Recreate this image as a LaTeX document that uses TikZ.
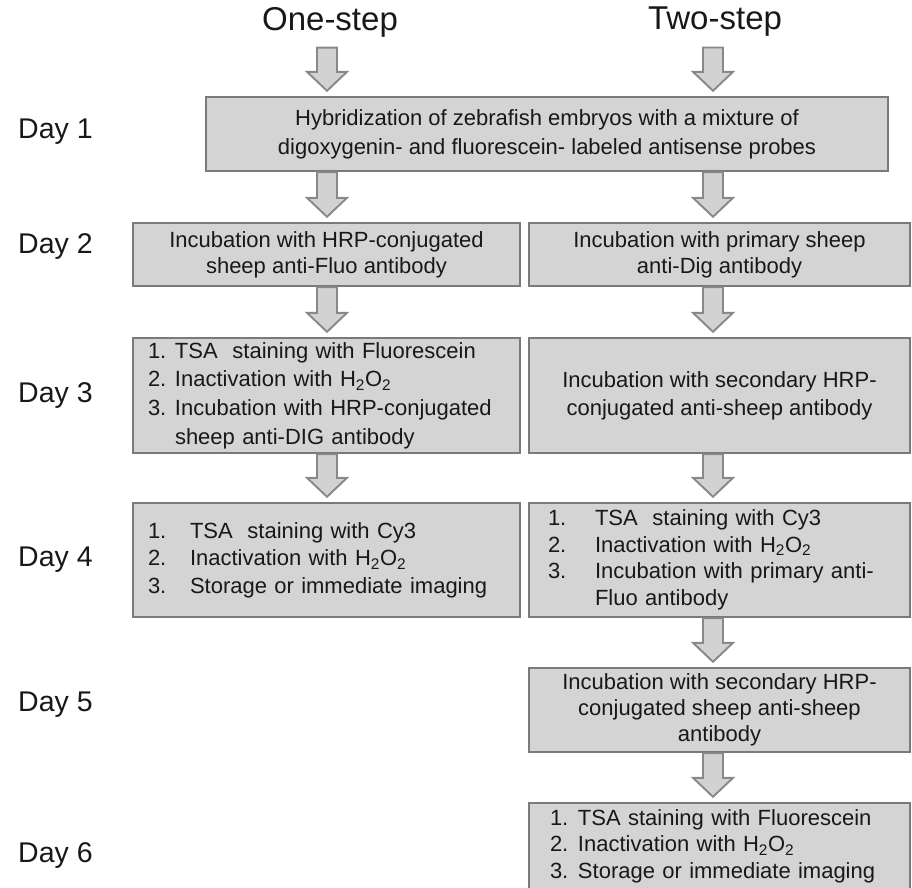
\documentclass[tikz,border=0pt]{standalone}
\usepackage{fontspec}
\setmainfont{Liberation Sans}
\usetikzlibrary{calc}
\definecolor{boxfill}{HTML}{D4D4D4}
\definecolor{boxline}{HTML}{7A7A7A}
\definecolor{arrfill}{HTML}{D2D2D2}
\definecolor{arrline}{HTML}{888888}
\definecolor{ink}{HTML}{181818}
\newcommand\blkarrow[2]{%
  \draw[blkarr] let \p1=(#1), \p2=(#2) in
    (\x1-10pt,\y1) -- (\x1-10pt,\y2+24pt) -- (\x1-20pt,\y2+24pt) -- (\x1,\y2+5pt)
    -- (\x1+20pt,\y2+24pt) -- (\x1+10pt,\y2+24pt) -- (\x1+10pt,\y1) -- cycle;}
\begin{document}
\begin{tikzpicture}[x=1pt,y=-1pt,
  stepbox/.style={draw=boxline, fill=boxfill, line width=2.4pt, inner sep=0pt,
    text=ink, font=\fontsize{22}{27}\selectfont, align=center},
  listbox/.style={stepbox, align=left},
  blkarr/.style={draw=arrline, fill=arrfill, line width=1.9pt, line join=miter},
  daylabel/.style={anchor=west, inner sep=0pt, text=ink, font=\fontsize{28.5}{31}\selectfont},
  title/.style={inner sep=0pt, text=ink, font=\fontsize{33}{36}\selectfont}]
\useasboundingbox (0,0) rectangle (912,887);
\clip (0,0) rectangle (912,887);

\coordinate (lcol) at (327,0);
\coordinate (rcol) at (713,0);

% titles
\node[title] (one) at (330,22) {One-step};
\node[title] (two) at (715,22) {Two-step};
\coordinate (s1) at ([yshift=-10.5pt]one.south);
\coordinate (s2) at ([yshift=-10.5pt]two.south);

% day labels
\node[daylabel] (d1) at (18,132) {Day 1};
\node[daylabel] (d2) at (18,246) {Day 2};
\node[daylabel] (d3) at (18,395) {Day 3};
\node[daylabel] (d4) at (18,560) {Day 4};
\node[daylabel] (d5) at (18,705) {Day 5};
\node[daylabel] (d6) at (18,855) {Day 6};

% boxes
\node[stepbox, minimum width=682pt, minimum height=74pt, font=\fontsize{22}{29}\selectfont] (b0) at (547,134)
  {Hybridization of zebrafish embryos with a mixture of\\digoxygenin- and fluorescein- labeled antisense probes};

\node[stepbox, minimum width=387pt, minimum height=63pt, font=\fontsize{22}{26}\selectfont] (l2) at (326.5,254.5)
  {Incubation with HRP-conjugated\\sheep anti-Fluo antibody};
\node[stepbox, minimum width=381pt, minimum height=63pt, font=\fontsize{22}{26}\selectfont] (r2) at (719.5,254.5)
  {Incubation with primary sheep\\anti-Dig antibody};

\node[listbox, minimum width=387pt, minimum height=115pt, text width=357pt, font=\fontsize{22}{28.7}\selectfont] (l3) at (326.5,395.5)
  {\noindent\begin{tabular}{@{}p{27pt}@{}l@{}}
  1. & TSA\ \ staining with Fluorescein\\
  2. & Inactivation with H\textsubscript{2}O\textsubscript{2}\\
  3. & Incubation with HRP-conjugated\\
     & sheep anti-DIG antibody
  \end{tabular}};
\node[stepbox, minimum width=381pt, minimum height=115pt, font=\fontsize{22}{28}\selectfont] (r3) at (719.5,395.5)
  {Incubation with secondary HRP-\\conjugated anti-sheep antibody};

\node[listbox, minimum width=387pt, minimum height=114pt, text width=357pt, font=\fontsize{22}{27.5}\selectfont] (l4) at (326.5,560)
  {\noindent\begin{tabular}{@{}p{42pt}@{}l@{}}
  1. & TSA\ \ staining with Cy3\\
  2. & Inactivation with H\textsubscript{2}O\textsubscript{2}\\
  3. & Storage or immediate imaging
  \end{tabular}};
\node[listbox, minimum width=381pt, minimum height=114pt, text width=343pt, font=\fontsize{22}{26.7}\selectfont] (r4) at (719.5,560)
  {\noindent\begin{tabular}{@{}p{47pt}@{}l@{}}
  1. & TSA\ \ staining with Cy3\\
  2. & Inactivation with H\textsubscript{2}O\textsubscript{2}\\
  3. & Incubation with primary anti-\\
     & Fluo antibody
  \end{tabular}};

\node[stepbox, minimum width=381pt, minimum height=84pt, font=\fontsize{22}{26}\selectfont] (r5) at (719.5,710)
  {Incubation with secondary HRP-\\conjugated sheep anti-sheep\\antibody};

\node[listbox, minimum width=381pt, minimum height=87pt, text width=339pt, font=\fontsize{22}{26.5}\selectfont] (r6) at (719.5,846.5)
  {\noindent\begin{tabular}{@{}p{28pt}@{}l@{}}
  1. & TSA staining with Fluorescein\\
  2. & Inactivation with H\textsubscript{2}O\textsubscript{2}\\
  3. & Storage or immediate imaging
  \end{tabular}};

% arrows
\blkarrow{s1 -| lcol}{b0.north -| lcol}
\blkarrow{s2 -| rcol}{b0.north -| rcol}
\blkarrow{b0.south -| lcol}{l2.north -| lcol}
\blkarrow{b0.south -| rcol}{r2.north -| rcol}
\blkarrow{l2.south -| lcol}{l3.north -| lcol}
\blkarrow{r2.south -| rcol}{r3.north -| rcol}
\blkarrow{l3.south -| lcol}{l4.north -| lcol}
\blkarrow{r3.south -| rcol}{r4.north -| rcol}
\blkarrow{r4.south -| rcol}{r5.north -| rcol}
\blkarrow{r5.south -| rcol}{r6.north -| rcol}
\end{tikzpicture}
\end{document}
